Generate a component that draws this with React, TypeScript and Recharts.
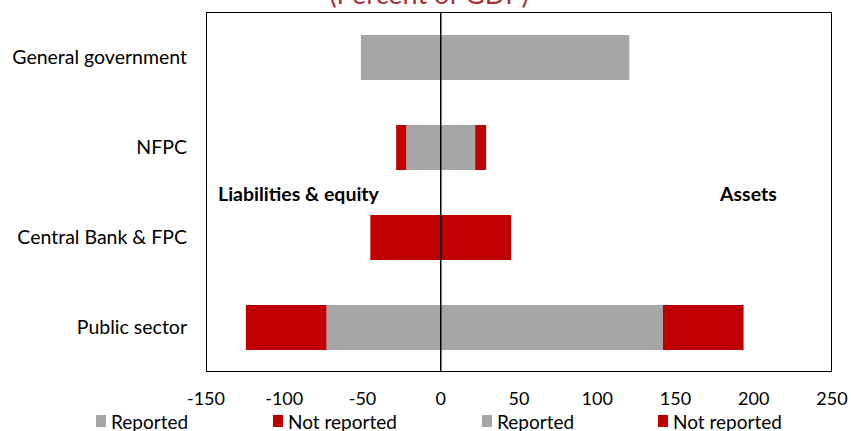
import {
  BarChart,
  Bar,
  XAxis,
  YAxis,
  Legend,
  ReferenceLine,
} from "recharts";

const categories = ["General government", "NFPC", "Central Bank & FPC", "Public sector"];
const liabReported = [-51, -22, 0, -73];
const liabNotReported = [0, -6.5, -45, -51.5];
const assetReported = [120.5, 22, 0, 142];
const assetNotReported = [0, 7, 45, 51.5];
const xTicks = [-150, -100, -50, 0, 50, 100, 150, 200, 250];

const GRAY = "#A6A6A6";
const RED = "#C00000";
const FONT = "Lato, 'Open Sans', sans-serif";

const data = categories.map((name, i) => ({
  name,
  liabReported: liabReported[i],
  liabNotReported: liabNotReported[i],
  assetReported: assetReported[i],
  assetNotReported: assetNotReported[i],
}));

// spacing of the four legend entries, as in the original
const legendWidths = [177, 209, 176, 150];

// eslint-disable-next-line @typescript-eslint/no-explicit-any
const LegendRow = ({ payload }: any) => (
  <div style={{ display: "flex", paddingLeft: 96, height: 20, alignItems: "center", fontFamily: FONT }}>
    {(payload || []).map((p: { value: string; color: string }, i: number) => (
      <div key={i} style={{ width: legendWidths[i], display: "flex", alignItems: "center" }}>
        <span style={{ width: 10, height: 12, background: p.color, marginRight: 5, display: "inline-block" }} />
        <span style={{ fontSize: 19, color: "#000" }}>{p.value}</span>
      </div>
    ))}
  </div>
);

export default function App() {
  return (
    <div style={{ position: "absolute", left: 0, top: 0, width: 851, height: 431, overflow: "hidden", background: "#fff" }}>
      <div
        style={{
          position: "absolute",
          top: -23,
          left: 0,
          width: 858,
          textAlign: "center",
          fontFamily: FONT,
          fontSize: 27,
          color: "#A93232",
        }}
      >
        (Percent of GDP)
      </div>
      <BarChart
        width={851}
        height={431}
        data={data}
        layout="vertical"
        stackOffset="sign"
        barSize={45}
        margin={{ top: 12, right: 19, left: 0, bottom: 0 }}
      >
        <XAxis
          type="number"
          domain={[-150, 250]}
          ticks={xTicks}
          axisLine={false}
          tickLine={false}
          tickMargin={14}
          height={39}
          tick={{ fill: "#000", fontSize: 18, fontFamily: FONT }}
        />
        <YAxis
          type="category"
          dataKey="name"
          width={206}
          axisLine={false}
          tickLine={false}
          tickMargin={13}
          tick={{ fill: "#000", fontSize: 19.5, fontFamily: FONT }}
        />
        <Legend
          verticalAlign="bottom"
          itemSorter={null}
          content={<LegendRow />}
          wrapperStyle={{ left: 0, width: 851 }}
        />
        <Bar dataKey="liabReported" name="Reported" stackId="a" fill={GRAY} isAnimationActive={false} />
        <Bar dataKey="liabNotReported" name="Not reported" stackId="a" fill={RED} isAnimationActive={false} />
        <Bar dataKey="assetReported" name="Reported" stackId="a" fill={GRAY} isAnimationActive={false} />
        <Bar dataKey="assetNotReported" name="Not reported" stackId="a" fill={RED} isAnimationActive={false} />
        <ReferenceLine x={0} stroke="#000" strokeWidth={1.5} />
      </BarChart>
      {/* plot frame */}
      <div
        style={{
          position: "absolute",
          left: 206,
          top: 12,
          width: 626,
          height: 360,
          border: "1.5px solid #000",
          boxSizing: "border-box",
          pointerEvents: "none",
        }}
      />
      <div style={{ position: "absolute", left: 218, top: 182, fontFamily: FONT, fontWeight: 700, fontSize: 19.5 }}>
        Liabilities &amp; equity
      </div>
      <div style={{ position: "absolute", left: 720, top: 182, fontFamily: FONT, fontWeight: 700, fontSize: 19.5 }}>
        Assets
      </div>
    </div>
  );
}
